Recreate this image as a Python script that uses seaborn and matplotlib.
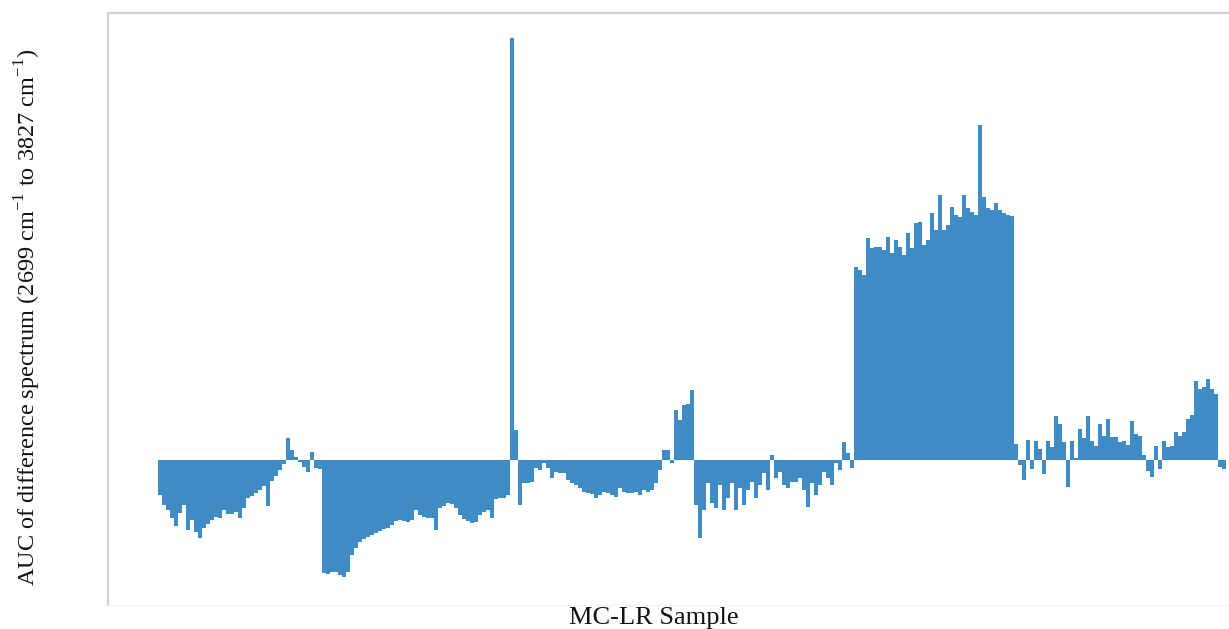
import numpy as np
import pandas as pd
import matplotlib
matplotlib.use("Agg")
import matplotlib.pyplot as plt
import seaborn as sns

# AUC of the difference spectrum for each MC-LR sample (arbitrary units)
auc_part1 = [-35, -45, -50, -58, -66, -53, -45, -70, -60, -72,
             -78, -68, -64, -60, -57, -58, -50, -54, -54, -52,
             -58, -48, -38, -36, -33, -30, -26, -46, -21, -16,
             -10, -4, 22, 10, 3, -2, -7, -12, 8, -8]
auc_part2 = [-9, -113, -114, -112, -112, -115, -117, -112, -95, -88,
             -82, -79, -77, -75, -73, -71, -69, -68, -65, -61,
             -60, -61, -62, -60, -50, -55, -57, -58, -58, -70,
             -48, -46, -43, -44, -48, -55, -59, -61, -63, -62,
             -55, -52, -50, -58, -39, -38, -38, -35, 422, 30]
auc_part3 = [-45, -23, -23, -22, -8, -10, -3, -8, -18, -12,
             -13, -13, -20, -23, -25, -28, -32, -33, -34, -38,
             -35, -32, -33, -35, -37, -28, -32, -33, -33, -32,
             -35, -30, -32, -30, -23, -10, 10, 10, -3, 50,
             40, 55, 56, 70, -45, -78, -50, -23, -43, -48]
auc_part4 = [-25, -50, -38, -23, -50, -28, -45, -30, -22, -38,
             -25, -13, -30, 5, -18, -12, -25, -28, -22, -22,
             -18, -30, -47, -23, -35, -25, -12, -18, -25, -3,
             -10, 18, 7, -8, 193, 190, 185, 222, 212, 213,
             213, 210, 223, 207, 220, 213, 205, 227, 212, 237]
auc_part5 = [238, 215, 220, 247, 230, 265, 230, 235, 253, 245,
             243, 265, 252, 248, 245, 335, 263, 252, 250, 257,
             250, 247, 245, 244, 16, -5, -20, 20, -9, 19,
             11, -14, 19, 13, 44, 36, 18, -27, 19, 2,
             31, 22, 44, 19, 14, 36, 24, 41, 23, 23]
auc_part6 = [18, 19, 15, 39, 26, 24, 5, -11, -17, 14,
             -9, 19, 13, 14, 28, 24, 28, 41, 45, 79,
             71, 73, 81, 71, 66, -7, -9]

auc = auc_part1 + auc_part2 + auc_part3 + auc_part4 + auc_part5 + auc_part6
samples = list(range(len(auc)))

x_label = "MC-LR Sample"
y_label = r"AUC of difference spectrum (2699 cm$^{\mathregular{-1}}$ to 3827 cm$^{\mathregular{-1}}$)"

sns.set_theme(style="white")
plt.rcParams["font.family"] = ["Liberation Serif", "DejaVu Serif"]
plt.rcParams["mathtext.fontset"] = "custom"
plt.rcParams["mathtext.rm"] = "Liberation Serif"

df = pd.DataFrame({"sample": samples, "auc": auc})

fig = plt.figure(figsize=(12.29, 6.29), dpi=100)
ax = fig.add_axes([108 / 1229, 24 / 629, 1 - 108 / 1229, 592 / 629])

sns.barplot(data=df, x="sample", y="auc", color="#3f8bc4", saturation=1,
            width=0.8, linewidth=0, errorbar=None, ax=ax)

ax.set_xlim(-13, 267.25)
ax.set_ylim(-145, 447)
ax.set_xticks([])
ax.set_yticks([])

for side in ["left", "top"]:
    ax.spines[side].set_color("#d2d2d2")
    ax.spines[side].set_linewidth(1.6)
ax.spines["bottom"].set_color("#f2f2f2")
ax.spines["bottom"].set_linewidth(1.0)
ax.spines["right"].set_visible(False)

ax.set_xlabel(x_label, fontsize=19, color="#111111")
ax.xaxis.set_label_coords(0.487, -0.022)
ax.xaxis.label.set_va("center")
ax.set_ylabel(y_label, fontsize=17.5, color="#111111")
ax.yaxis.set_label_coords(-0.0714, 0.486)
ax.yaxis.label.set_va("center")

fig.savefig("out.png", dpi=100)
